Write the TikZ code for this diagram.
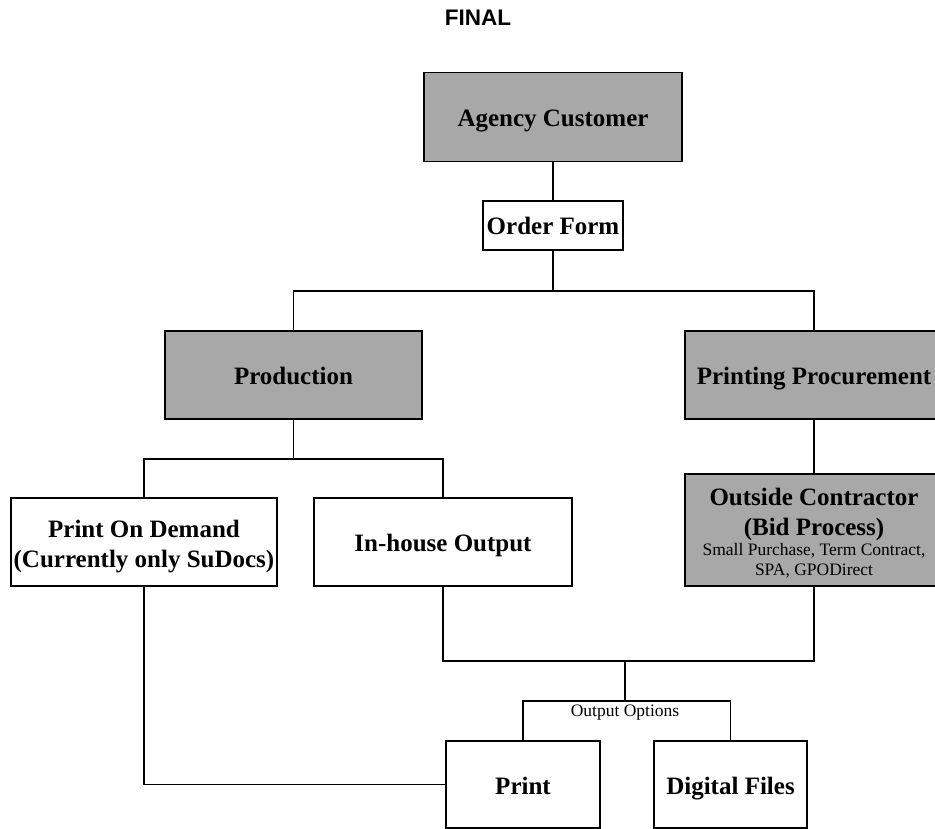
\documentclass[tikz,border=0pt]{standalone}
\usepackage{fontspec}
\setmainfont{Liberation Serif}
\newfontfamily\headfont{Liberation Sans}
\definecolor{boxgray}{HTML}{A8A8A8}
\tikzset{
  unit/.style={draw, line width=1.6pt, inner sep=0pt, align=center,
    font=\bfseries\fontsize{25}{30}\selectfont},
  shaded/.style={unit, fill=boxgray},
  plain/.style={unit, fill=white},
  oneline/.style={text height=21pt, text depth=2pt},
  link/.style={line width=1.3pt},
  smalltext/.style={font=\fontsize{17.5}{20}\selectfont}
}
\begin{document}
\begin{tikzpicture}[x=1pt, y=-1pt]
    \useasboundingbox (0,0) rectangle (935,829);

    % title
    \node [font=\headfont\bfseries\fontsize{22.5}{26}\selectfont] (title) at (478,18) {FINAL};

    % boxes
    \node [shaded, oneline, minimum width=258pt, minimum height=89pt] (agency) at (553,117) {Agency Customer};
    \node [plain, oneline, minimum width=140pt, minimum height=49pt] (order) at (553,225.5) {Order Form};
    \node [shaded, oneline, minimum width=257pt, minimum height=88pt] (production) at (293.5,375) {Production};
    \node [shaded, oneline, minimum width=258pt, minimum height=88pt] (procurement) at (814,375) {Printing Procurement};
    \node [plain, minimum width=266pt, minimum height=88pt] (pod) at (144,542)
      {\rule{0pt}{27pt}Print On Demand\\(Currently only SuDocs)};
    \node [plain, oneline, minimum width=258pt, minimum height=88pt] (inhouse) at (443,542) {In-house Output};
    \node [shaded, minimum width=258pt, minimum height=112pt] (contractor) at (814,530)
      {\rule{0pt}{24pt}Outside Contractor\\(Bid Process)\\[-10pt]
       {\mdseries\fontsize{17.5}{20}\selectfont Small Purchase, Term Contract,}\\[-10pt]
       {\mdseries\fontsize{17.5}{20}\selectfont SPA, GPODirect}};
    \node [plain, oneline, minimum width=154pt, minimum height=87pt] (print) at (523,784.5) {Print};
    \node [plain, oneline, minimum width=153pt, minimum height=87pt] (digital) at (730.5,784.5) {Digital Files};

    % junctions
    \coordinate (split1) at (553,291);
    \coordinate (split2) at (293.5,459);
    \coordinate (join) at (625,661);
    \coordinate (options) at (625,701);

    % connectors
    \draw [link] (agency) -- (order);
    \draw [link] (order) -- (split1);
    \draw [link] (production.north) |- (split1) -| (procurement.north);
    \draw [link] (production) -- (split2);
    \draw [link] (pod.north) |- (split2) -| (inhouse.north);
    \draw [link] (procurement) -- (contractor);
    \draw [link] (inhouse.south) |- (join) -| (contractor.south);
    \draw [link] (join) -- (options);
    \draw [link] (print.north) |- (options) -| (digital.north);
    \draw [link] (pod.south) |- (print.west);

    % add labels
    \node [smalltext] (optlabel) at (625,713) {Output Options};
\end{tikzpicture}
\end{document}
